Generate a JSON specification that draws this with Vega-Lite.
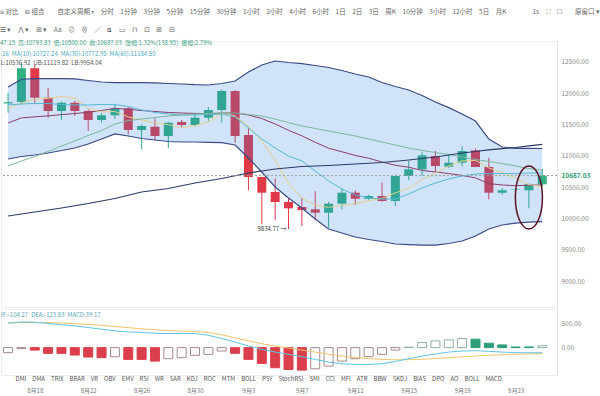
{
  "$schema": "https://vega.github.io/schema/vega-lite/v6.json",
  "background": "white",
  "padding": {"top": 9, "left": 0, "right": 0, "bottom": 0},
  "config": {"font": "Noto Sans CJK SC", "view": {"stroke": "#eeeeee"}, "axisY": {"labelOverlap": false, "labelBound": false}},
  "title": {
    "text": ["⧈ 对比\u2002\u2002⧉ 组合\u2002\u2002\u2002\u2002自定义周期 ▾\u2002\u2002分时\u2002\u20021分钟\u2002\u20023分钟\u2002\u20025分钟\u2002\u200215分钟\u2002\u200230分钟\u2002\u20021小时\u2002\u20022小时\u2002\u20024小时\u2002\u20026小时\u2002\u20021日\u2002\u20022日\u2002\u20023日\u2002\u2002周K\u2002\u200210分钟\u2002\u20023小时\u2002\u200212小时\u2002\u20025日\u2002\u2002月K\u2002\u2002\u2002\u2002\u2002\u2002\u2002\u20021s\u2002\u2002⛶\u2002\u2002☐\u2002\u2002\u2002\u2002原窗口 ▾",
             "☰ ▾\u2003⋀ ▾\u2003⊞ ▾\u2003Aa\u2003⊘\u2003⊗\u2003∕\u2003⍺\u2003▭\u2003⊓\u2003⊡\u2003⊞\u2003⊟"],
    "subtitle": "47.15\u2002高:10793.83\u2002低:10500.00\u2002收:10687.03\u2002涨幅:1.32%(138.95)\u2002振幅:2.79%",
    "anchor": "start",
    "fontSize": 6.5,
    "fontWeight": "normal",
    "color": "#666666",
    "lineHeight": 18,
    "subtitleFontSize": 6,
    "subtitleColor": "#3a9e86",
    "subtitlePadding": 6,
    "offset": -5
  },
  "datasets": {
    "k": [
      {"date": "2020-08-16", "open": 11838, "high": 12010, "low": 11690, "close": 11858},
      {"date": "2020-08-17", "open": 11862, "high": 12480, "low": 11825, "close": 12400},
      {"date": "2020-08-18", "open": 12400, "high": 12460, "low": 11825, "close": 11930},
      {"date": "2020-08-19", "open": 11930, "high": 12090, "low": 11611, "close": 11718},
      {"date": "2020-08-20", "open": 11718, "high": 11870, "low": 11574, "close": 11850},
      {"date": "2020-08-21", "open": 11850, "high": 11880, "low": 11638, "close": 11718},
      {"date": "2020-08-22", "open": 11718, "high": 11740, "low": 11399, "close": 11574},
      {"date": "2020-08-23", "open": 11574, "high": 11680, "low": 11531, "close": 11649},
      {"date": "2020-08-24", "open": 11649, "high": 11835, "low": 11590, "close": 11761},
      {"date": "2020-08-25", "open": 11761, "high": 11790, "low": 11346, "close": 11415},
      {"date": "2020-08-26", "open": 11415, "high": 11500, "low": 11107, "close": 11479},
      {"date": "2020-08-27", "open": 11467, "high": 11600, "low": 11250, "close": 11319},
      {"date": "2020-08-28", "open": 11319, "high": 11545, "low": 11122, "close": 11531},
      {"date": "2020-08-29", "open": 11542, "high": 11575, "low": 11460, "close": 11494},
      {"date": "2020-08-30", "open": 11494, "high": 11675, "low": 11470, "close": 11611},
      {"date": "2020-08-31", "open": 11611, "high": 11780, "low": 11560, "close": 11734},
      {"date": "2020-09-01", "open": 11734, "high": 12060, "low": 11531, "close": 12037},
      {"date": "2020-09-02", "open": 12037, "high": 12050, "low": 11212, "close": 11319},
      {"date": "2020-09-03", "open": 11335, "high": 11451, "low": 10452, "close": 10665},
      {"date": "2020-09-04", "open": 10665, "high": 10670, "low": 9910, "close": 10414},
      {"date": "2020-09-05", "open": 10425, "high": 10644, "low": 9974, "close": 10266},
      {"date": "2020-09-06", "open": 10266, "high": 10330, "low": 9834.77, "close": 10165},
      {"date": "2020-09-07", "open": 10186, "high": 10334, "low": 9883, "close": 10138},
      {"date": "2020-09-08", "open": 10149, "high": 10437, "low": 9974, "close": 10095},
      {"date": "2020-09-09", "open": 10095, "high": 10270, "low": 9855, "close": 10239},
      {"date": "2020-09-10", "open": 10239, "high": 10484, "low": 10150, "close": 10414},
      {"date": "2020-09-11", "open": 10414, "high": 10450, "low": 10218, "close": 10318},
      {"date": "2020-09-12", "open": 10318, "high": 10380, "low": 10300, "close": 10361},
      {"date": "2020-09-13", "open": 10361, "high": 10574, "low": 10270, "close": 10282},
      {"date": "2020-09-14", "open": 10282, "high": 10700, "low": 10202, "close": 10681},
      {"date": "2020-09-15", "open": 10681, "high": 10920, "low": 10612, "close": 10787},
      {"date": "2020-09-16", "open": 10787, "high": 11060, "low": 10681, "close": 11010},
      {"date": "2020-09-17", "open": 11000, "high": 11080, "low": 10750, "close": 10840},
      {"date": "2020-09-18", "open": 10830, "high": 11030, "low": 10810, "close": 10893},
      {"date": "2020-09-19", "open": 10893, "high": 11160, "low": 10830, "close": 11080},
      {"date": "2020-09-20", "open": 11090, "high": 11120, "low": 10820, "close": 10824},
      {"date": "2020-09-21", "open": 10824, "high": 10973, "low": 10308, "close": 10414},
      {"date": "2020-09-22", "open": 10414, "high": 10490, "low": 10380, "close": 10452},
      {"date": "2020-09-23", "open": 10460, "high": 10480, "low": 10440, "close": 10470},
      {"date": "2020-09-24", "open": 10452, "high": 10560, "low": 10165, "close": 10548.08},
      {"date": "2020-09-25", "open": 10547.15, "high": 10793.83, "low": 10500, "close": 10687.03}
    ],
    "ind": [
      {"date": "2020-08-16", "ub": 12101, "lb": 10952, "mid": 11526, "ma5": 11750, "ma10": 11814, "ma30": 10840, "ma60": 10042},
      {"date": "2020-08-17", "ub": 12225, "lb": 10992, "mid": 11608, "ma5": 11850, "ma10": 11830, "ma30": 10920, "ma60": 10074},
      {"date": "2020-08-18", "ub": 12233, "lb": 11016, "mid": 11625, "ma5": 11900, "ma10": 11838, "ma30": 10992, "ma60": 10106},
      {"date": "2020-08-19", "ub": 12233, "lb": 11048, "mid": 11640, "ma5": 11920, "ma10": 11838, "ma30": 11072, "ma60": 10138},
      {"date": "2020-08-20", "ub": 12233, "lb": 11088, "mid": 11660, "ma5": 11951, "ma10": 11822, "ma30": 11159, "ma60": 10170},
      {"date": "2020-08-21", "ub": 12229, "lb": 11127, "mid": 11678, "ma5": 11923, "ma10": 11814, "ma30": 11239, "ma60": 10206},
      {"date": "2020-08-22", "ub": 12205, "lb": 11191, "mid": 11698, "ma5": 11758, "ma10": 11814, "ma30": 11327, "ma60": 10242},
      {"date": "2020-08-23", "ub": 12181, "lb": 11271, "mid": 11726, "ma5": 11702, "ma10": 11822, "ma30": 11407, "ma60": 10282},
      {"date": "2020-08-24", "ub": 12170, "lb": 11351, "mid": 11760, "ma5": 11710, "ma10": 11822, "ma30": 11510, "ma60": 10322},
      {"date": "2020-08-25", "ub": 12170, "lb": 11319, "mid": 11745, "ma5": 11623, "ma10": 11790, "ma30": 11566, "ma60": 10374},
      {"date": "2020-08-26", "ub": 12170, "lb": 11279, "mid": 11725, "ma5": 11576, "ma10": 11734, "ma30": 11590, "ma60": 10425},
      {"date": "2020-08-27", "ub": 12166, "lb": 11255, "mid": 11710, "ma5": 11525, "ma10": 11694, "ma30": 11614, "ma60": 10453},
      {"date": "2020-08-28", "ub": 12157, "lb": 11231, "mid": 11694, "ma5": 11501, "ma10": 11670, "ma30": 11638, "ma60": 10481},
      {"date": "2020-08-29", "ub": 12149, "lb": 11223, "mid": 11686, "ma5": 11448, "ma10": 11654, "ma30": 11654, "ma60": 10525},
      {"date": "2020-08-30", "ub": 12138, "lb": 11223, "mid": 11680, "ma5": 11487, "ma10": 11654, "ma30": 11670, "ma60": 10569},
      {"date": "2020-08-31", "ub": 12133, "lb": 11218, "mid": 11675, "ma5": 11538, "ma10": 11662, "ma30": 11678, "ma60": 10605},
      {"date": "2020-09-01", "ub": 12157, "lb": 11212, "mid": 11684, "ma5": 11681, "ma10": 11670, "ma30": 11686, "ma60": 10641},
      {"date": "2020-09-02", "ub": 12197, "lb": 11175, "mid": 11686, "ma5": 11639, "ma10": 11622, "ma30": 11686, "ma60": 10685},
      {"date": "2020-09-03", "ub": 12340, "lb": 10968, "mid": 11654, "ma5": 11473, "ma10": 11447, "ma30": 11662, "ma60": 10728},
      {"date": "2020-09-04", "ub": 12452, "lb": 10744, "mid": 11598, "ma5": 11234, "ma10": 11271, "ma30": 11638, "ma60": 10760},
      {"date": "2020-09-05", "ub": 12516, "lb": 10505, "mid": 11510, "ma5": 10940, "ma10": 11127, "ma30": 11590, "ma60": 10792},
      {"date": "2020-09-06", "ub": 12492, "lb": 10329, "mid": 11410, "ma5": 10566, "ma10": 11000, "ma30": 11534, "ma60": 10812},
      {"date": "2020-09-07", "ub": 12473, "lb": 10170, "mid": 11321, "ma5": 10330, "ma10": 10920, "ma30": 11479, "ma60": 10832},
      {"date": "2020-09-08", "ub": 12444, "lb": 9994, "mid": 11219, "ma5": 10216, "ma10": 10760, "ma30": 11439, "ma60": 10840},
      {"date": "2020-09-09", "ub": 12412, "lb": 9835, "mid": 11124, "ma5": 10181, "ma10": 10601, "ma30": 11399, "ma60": 10848},
      {"date": "2020-09-10", "ub": 12364, "lb": 9771, "mid": 11067, "ma5": 10210, "ma10": 10473, "ma30": 11359, "ma60": 10860},
      {"date": "2020-09-11", "ub": 12308, "lb": 9707, "mid": 11008, "ma5": 10241, "ma10": 10377, "ma30": 11319, "ma60": 10872},
      {"date": "2020-09-12", "ub": 12261, "lb": 9667, "mid": 10964, "ma5": 10285, "ma10": 10329, "ma30": 11271, "ma60": 10884},
      {"date": "2020-09-13", "ub": 12173, "lb": 9635, "mid": 10904, "ma5": 10323, "ma10": 10313, "ma30": 11223, "ma60": 10896},
      {"date": "2020-09-14", "ub": 12109, "lb": 9595, "mid": 10852, "ma5": 10411, "ma10": 10313, "ma30": 11175, "ma60": 10916},
      {"date": "2020-09-15", "ub": 12053, "lb": 9587, "mid": 10820, "ma5": 10486, "ma10": 10393, "ma30": 11127, "ma60": 10936},
      {"date": "2020-09-16", "ub": 11965, "lb": 9579, "mid": 10770, "ma5": 10624, "ma10": 10489, "ma30": 11088, "ma60": 10960},
      {"date": "2020-09-17", "ub": 11862, "lb": 9579, "mid": 10745, "ma5": 10720, "ma10": 10569, "ma30": 11056, "ma60": 10984},
      {"date": "2020-09-18", "ub": 11771, "lb": 9603, "mid": 10720, "ma5": 10842, "ma10": 10633, "ma30": 11024, "ma60": 11016},
      {"date": "2020-09-19", "ub": 11670, "lb": 9643, "mid": 10690, "ma5": 10922, "ma10": 10681, "ma30": 10984, "ma60": 11048},
      {"date": "2020-09-20", "ub": 11558, "lb": 9723, "mid": 10650, "ma5": 10929, "ma10": 10713, "ma30": 10944, "ma60": 11072},
      {"date": "2020-09-21", "ub": 11271, "lb": 9835, "mid": 10560, "ma5": 10810, "ma10": 10720, "ma30": 10912, "ma60": 11096},
      {"date": "2020-09-22", "ub": 11143, "lb": 9899, "mid": 10537, "ma5": 10733, "ma10": 10720, "ma30": 10880, "ma60": 11116},
      {"date": "2020-09-23", "ub": 11123, "lb": 9930, "mid": 10526, "ma5": 10648, "ma10": 10720, "ma30": 10840, "ma60": 11135},
      {"date": "2020-09-24", "ub": 11123, "lb": 9946, "mid": 10534, "ma5": 10542, "ma10": 10728, "ma30": 10800, "ma60": 11160},
      {"date": "2020-09-25", "ub": 11119.82, "lb": 9954.04, "mid": 10536.92, "ma5": 10514, "ma10": 10727.24, "ma30": 10772.95, "ma60": 11184.5}
    ],
    "macd": [
      {"date": "2020-08-16", "hist": -103, "dif": 500, "dea": 505, "dir": "up"},
      {"date": "2020-08-17", "hist": -20, "dif": 527, "dea": 512, "dir": "up"},
      {"date": "2020-08-18", "hist": -50, "dif": 521, "dea": 514, "dir": "down"},
      {"date": "2020-08-19", "hist": -117, "dif": 494, "dea": 510, "dir": "down"},
      {"date": "2020-08-20", "hist": -117, "dif": 466, "dea": 502, "dir": "down"},
      {"date": "2020-08-21", "hist": -152, "dif": 445, "dea": 490, "dir": "down"},
      {"date": "2020-08-22", "hist": -193, "dif": 412, "dea": 475, "dir": "down"},
      {"date": "2020-08-23", "hist": -206, "dif": 377, "dea": 455, "dir": "down"},
      {"date": "2020-08-24", "hist": -186, "dif": 342, "dea": 432, "dir": "up"},
      {"date": "2020-08-25", "hist": -241, "dif": 321, "dea": 408, "dir": "down"},
      {"date": "2020-08-26", "hist": -241, "dif": 309, "dea": 385, "dir": "down"},
      {"date": "2020-08-27", "hist": -276, "dif": 295, "dea": 365, "dir": "down"},
      {"date": "2020-08-28", "hist": -227, "dif": 288, "dea": 350, "dir": "up"},
      {"date": "2020-08-29", "hist": -206, "dif": 288, "dea": 340, "dir": "up"},
      {"date": "2020-08-30", "hist": -158, "dif": 288, "dea": 330, "dir": "up"},
      {"date": "2020-08-31", "hist": -138, "dif": 253, "dea": 312, "dir": "up"},
      {"date": "2020-09-01", "hist": -69, "dif": 185, "dea": 262, "dir": "up"},
      {"date": "2020-09-02", "hist": -117, "dif": 115, "dea": 200, "dir": "down"},
      {"date": "2020-09-03", "hist": -241, "dif": 33, "dea": 140, "dir": "down"},
      {"date": "2020-09-04", "hist": -323, "dif": -35, "dea": 80, "dir": "down"},
      {"date": "2020-09-05", "hist": -412, "dif": -91, "dea": 30, "dir": "down"},
      {"date": "2020-09-06", "hist": -447, "dif": -138, "dea": -10, "dir": "down"},
      {"date": "2020-09-07", "hist": -460, "dif": -185, "dea": -50, "dir": "down"},
      {"date": "2020-09-08", "hist": -433, "dif": -241, "dea": -92, "dir": "up"},
      {"date": "2020-09-09", "hist": -378, "dif": -296, "dea": -135, "dir": "up"},
      {"date": "2020-09-10", "hist": -275, "dif": -330, "dea": -172, "dir": "up"},
      {"date": "2020-09-11", "hist": -227, "dif": -344, "dea": -202, "dir": "up"},
      {"date": "2020-09-12", "hist": -186, "dif": -344, "dea": -225, "dir": "up"},
      {"date": "2020-09-13", "hist": -138, "dif": -330, "dea": -240, "dir": "up"},
      {"date": "2020-09-14", "hist": -50, "dif": -282, "dea": -248, "dir": "up"},
      {"date": "2020-09-15", "hist": 10, "dif": -227, "dea": -248, "dir": "up"},
      {"date": "2020-09-16", "hist": 103, "dif": -173, "dea": -240, "dir": "up"},
      {"date": "2020-09-17", "hist": 137, "dif": -131, "dea": -224, "dir": "up"},
      {"date": "2020-09-18", "hist": 158, "dif": -91, "dea": -206, "dir": "up"},
      {"date": "2020-09-19", "hist": 185, "dif": -70, "dea": -188, "dir": "up"},
      {"date": "2020-09-20", "hist": 172, "dif": -63, "dea": -172, "dir": "down"},
      {"date": "2020-09-21", "hist": 90, "dif": -77, "dea": -158, "dir": "down"},
      {"date": "2020-09-22", "hist": 55, "dif": -91, "dea": -146, "dir": "down"},
      {"date": "2020-09-23", "hist": 14, "dif": -103, "dea": -137, "dir": "down"},
      {"date": "2020-09-24", "hist": 14, "dif": -105, "dea": -130, "dir": "down"},
      {"date": "2020-09-25", "hist": 39.17, "dif": -104.27, "dea": -123.83, "dir": "up"}
    ],
    "last": [{"price": 10687.03}],
    "note": [{"date": "2020-09-06", "price": 9834.77, "label": "9834.77 →"}],
    "ring": [{"date": "2020-09-24", "price": 10337}]
  },
  "spacing": 0,
  "resolve": {"scale": {"x": "independent", "y": "independent"}},
  "vconcat": [
    {
      "width": 556,
      "height": 266,
      "title": {
        "text": ".16\u2002MA(10):10727.24\u2002MA(30):10772.95\u2002MA(60):11184.50",
        "subtitle": "L:10536.92\u2002UB:11119.82\u2002LB:9954.04",
        "anchor": "start",
        "fontSize": 6,
        "fontWeight": "normal",
        "color": "#4aa8c0",
        "subtitleFontSize": 6,
        "subtitleColor": "#555555",
        "subtitlePadding": 3,
        "offset": -25
      },
      "resolve": {"axis": {"x": "independent", "y": "independent"}},
      "layer": [
        {
          "data": {"name": "k"},
          "mark": {"type": "rule", "strokeWidth": 1},
          "encoding": {
            "x": {"field": "date", "type": "temporal", "scale": {"type": "utc", "domain": [{"year": 2020, "month": 8, "date": 15, "hours": 20, "minutes": 18, "utc": true}, {"year": 2020, "month": 9, "date": 25, "hours": 17, "minutes": 30, "utc": true}]}, "axis": null},
            "y": {"field": "low", "type": "quantitative", "scale": {"domain": [8590, 12835], "zero": false, "nice": false},
                  "axis": {"orient": "right", "title": null, "values": [9000, 9500, 10000, 10500, 11000, 11500, 12000, 12500, 10687.03], "format": ".2f", "labelFontSize": 6.5,
                           "labelColor": {"condition": {"test": "datum.value == 10687.03", "value": "#2e9d6e"}, "value": "#888888"},
                           "labelFontWeight": {"condition": {"test": "datum.value == 10687.03", "value": "bold"}, "value": "normal"},
                           "ticks": false, "domain": true, "domainColor": "#e3e3e3", "grid": false, "labelPadding": 4, "labelOverlap": false, "labelBound": false}},
            "y2": {"field": "high"},
            "color": {"condition": {"test": "datum.close >= datum.open", "value": "#33b07f"}, "value": "#e03a48"}
          }
        },
        {
          "data": {"name": "k"},
          "mark": {"type": "bar", "size": 9},
          "encoding": {
            "x": {"field": "date", "type": "temporal", "axis": null},
            "y": {"field": "open", "type": "quantitative", "axis": null},
            "y2": {"field": "close"},
            "color": {"condition": {"test": "datum.close >= datum.open", "value": "#33b07f"}, "value": "#e03a48"}
          }
        },
        {
          "data": {"name": "ind"},
          "mark": {"type": "area", "color": "#2f7fdf", "opacity": 0.22},
          "encoding": {
            "x": {"field": "date", "type": "temporal", "axis": null},
            "y": {"field": "ub", "type": "quantitative", "axis": null},
            "y2": {"field": "lb"}
          }
        },
        {"data": {"name": "ind"}, "mark": {"type": "line", "color": "#3b4a86", "strokeWidth": 1.2},
         "encoding": {"x": {"field": "date", "type": "temporal", "axis": null}, "y": {"field": "ub", "type": "quantitative", "axis": null}}},
        {"data": {"name": "ind"}, "mark": {"type": "line", "color": "#3b4a86", "strokeWidth": 1.2},
         "encoding": {"x": {"field": "date", "type": "temporal", "axis": null}, "y": {"field": "lb", "type": "quantitative", "axis": null}}},
        {"data": {"name": "ind"}, "mark": {"type": "line", "color": "#8c3d6b", "strokeWidth": 1},
         "encoding": {"x": {"field": "date", "type": "temporal", "axis": null}, "y": {"field": "mid", "type": "quantitative", "axis": null}}},
        {"data": {"name": "ind"}, "mark": {"type": "line", "color": "#e3d08c", "strokeWidth": 1},
         "encoding": {"x": {"field": "date", "type": "temporal", "axis": null}, "y": {"field": "ma5", "type": "quantitative", "axis": null}}},
        {"data": {"name": "ind"}, "mark": {"type": "line", "color": "#56b9d6", "strokeWidth": 1},
         "encoding": {"x": {"field": "date", "type": "temporal", "axis": null}, "y": {"field": "ma10", "type": "quantitative", "axis": null}}},
        {"data": {"name": "ind"}, "mark": {"type": "line", "color": "#7bb89c", "strokeWidth": 1},
         "encoding": {"x": {"field": "date", "type": "temporal", "axis": null}, "y": {"field": "ma30", "type": "quantitative", "axis": null}}},
        {"data": {"name": "ind"}, "mark": {"type": "line", "color": "#2b3a67", "strokeWidth": 1.2},
         "encoding": {"x": {"field": "date", "type": "temporal", "axis": null}, "y": {"field": "ma60", "type": "quantitative", "axis": null}}},
        {"data": {"name": "last"}, "mark": {"type": "rule", "color": "#9a9a9a", "strokeDash": [2, 2], "strokeWidth": 1},
         "encoding": {"y": {"field": "price", "type": "quantitative", "axis": null}}},
        {"data": {"name": "note"}, "mark": {"type": "text", "align": "right", "baseline": "middle", "dx": -2, "fontSize": 6, "color": "#333333"},
         "encoding": {"x": {"field": "date", "type": "temporal", "axis": null}, "y": {"field": "price", "type": "quantitative", "axis": null}, "text": {"field": "label"}}},
        {"data": {"name": "ring"}, "mark": {"type": "point", "shape": "M0,-1 A0.43,1 0 1,1 0,1 A0.43,1 0 1,1 0,-1 Z", "size": 3969, "filled": false, "stroke": "#5b1322", "strokeWidth": 1.5, "opacity": 1},
         "encoding": {"x": {"field": "date", "type": "temporal", "axis": null}, "y": {"field": "price", "type": "quantitative", "axis": null}}}
      ]
    },
    {
      "width": 556,
      "height": 66,
      "data": {"name": "macd"},
      "title": {
        "text": "IF:-104.27\u2002DEA:-123.83\u2002MACD:39.17",
        "anchor": "start",
        "fontSize": 6,
        "fontWeight": "normal",
        "color": "#5aa9b5",
        "offset": -9
      },
      "resolve": {"axis": {"x": "independent", "y": "independent"}},
      "layer": [
        {
          "mark": {"type": "bar", "size": 9, "strokeWidth": 1, "clip": true},
          "encoding": {
            "x": {"field": "date", "type": "temporal",
                  "scale": {"type": "utc", "domain": [{"year": 2020, "month": 8, "date": 15, "hours": 20, "minutes": 18, "utc": true}, {"year": 2020, "month": 9, "date": 25, "hours": 17, "minutes": 30, "utc": true}]},
                  "axis": {"values": [{"year": 2020, "month": 8, "date": 18, "utc": true}, {"year": 2020, "month": 8, "date": 22, "utc": true}, {"year": 2020, "month": 8, "date": 26, "utc": true}, {"year": 2020, "month": 8, "date": 30, "utc": true}, {"year": 2020, "month": 9, "date": 3, "utc": true}, {"year": 2020, "month": 9, "date": 7, "utc": true}, {"year": 2020, "month": 9, "date": 11, "utc": true}, {"year": 2020, "month": 9, "date": 15, "utc": true}, {"year": 2020, "month": 9, "date": 19, "utc": true}, {"year": 2020, "month": 9, "date": 23, "utc": true}],
                           "labelExpr": "utcFormat(datum.value, '%-m月%-d')", "labelFontSize": 6, "labelColor": "#777777", "ticks": false, "domain": false, "grid": false, "labelPadding": 12,
                           "title": "DMI\u2003DMA\u2003TRIX\u2003BRAR\u2003VR\u2003OBV\u2003EMV\u2003RSI\u2003WR\u2003SAR\u2003KDJ\u2003ROC\u2003MTM\u2003BOLL\u2003PSY\u2003StochRSI\u2003SMI\u2003CCI\u2003MFI\u2003ATR\u2003BBW\u2003SKDJ\u2003BIAS\u2003DPO\u2003AO\u2003BOLL\u2003MACD",
                           "titleFontSize": 6, "titleFontWeight": "normal", "titleColor": "#555555", "titleAnchor": "start", "titleAlign": "left", "titleX": 14, "titleY": 3, "titleBaseline": "middle"}},
            "y": {"field": "hist", "type": "quantitative", "scale": {"domain": [-560, 790], "nice": false},
                  "axis": {"orient": "right", "title": null, "values": [0, 500], "format": ".2f", "labelFontSize": 6.5, "labelColor": "#888888", "ticks": false, "domain": true, "domainColor": "#e3e3e3", "grid": false, "labelPadding": 4, "labelOverlap": false}},
            "fill": {"condition": [{"test": "datum.hist < 0 && datum.dir == 'down'", "value": "#dc3f4c"}, {"test": "datum.hist >= 0 && datum.dir == 'down'", "value": "#2f9e78"}], "value": "#ffffff"},
            "stroke": {"condition": [{"test": "datum.hist < 0 && datum.dir == 'down'", "value": "#dc3f4c"}, {"test": "datum.hist >= 0 && datum.dir == 'down'", "value": "#2f9e78"}, {"test": "datum.hist < 0", "value": "#a58a8e"}], "value": "#8fb0a3"}
          }
        },
        {"mark": {"type": "line", "color": "#f0c46a", "strokeWidth": 1, "clip": true},
         "encoding": {"x": {"field": "date", "type": "temporal", "axis": null}, "y": {"field": "dea", "type": "quantitative", "axis": null}}},
        {"mark": {"type": "line", "color": "#5ec4e6", "strokeWidth": 1, "clip": true},
         "encoding": {"x": {"field": "date", "type": "temporal", "axis": null}, "y": {"field": "dif", "type": "quantitative", "axis": null}}}
      ]
    }
  ]
}
